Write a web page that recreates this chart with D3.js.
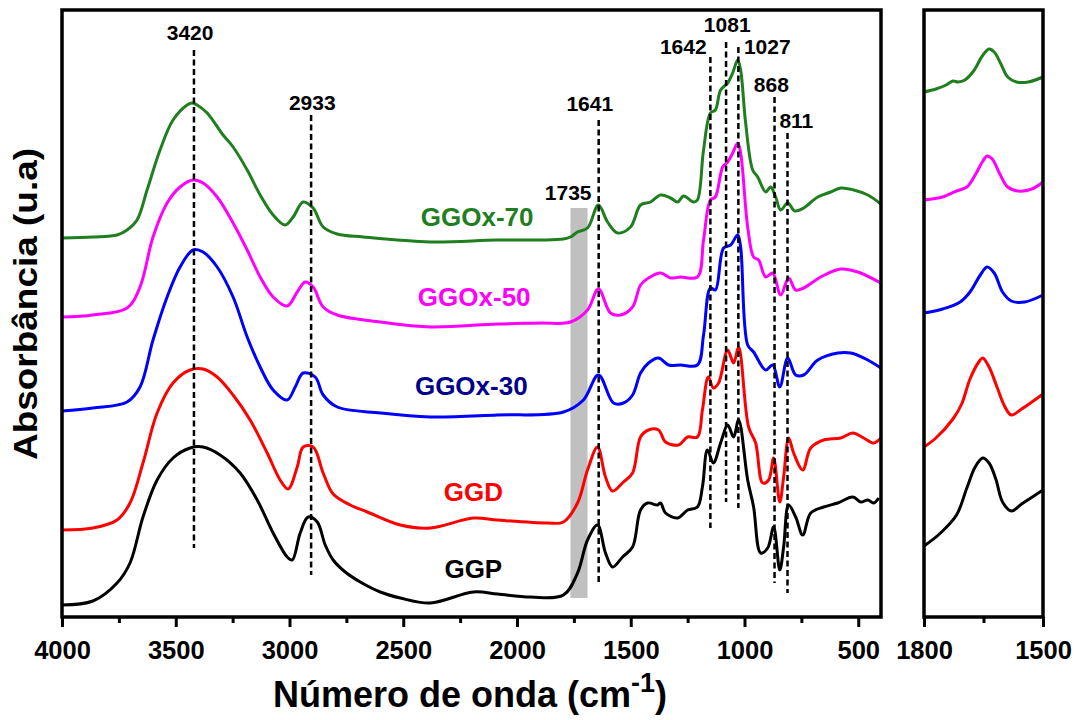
<!DOCTYPE html>
<html>
<head>
<meta charset="utf-8">
<script src="https://cdn.jsdelivr.net/npm/d3@7"></script>
<style>
  body { margin: 0; background: #fff; }
  svg { display: block; }
  text { font-family: "Liberation Sans", Arial, sans-serif; font-weight: bold; }
</style>
</head>
<body>
<svg id="chart" width="1075" height="720"></svg>
<script>
// FTIR spectra (offset for clarity): wavenumber (cm-1), absorbance (a.u., stacked)
const seriesNames  = ["GGP", "GGD", "GGOx-30", "GGOx-50", "GGOx-70"];
const seriesColors = ["#000000", "#ff0000", "#0000ff", "#ff00ff", "#1f7f1f"];
const labelColors  = ["#000000", "#ff0000", "#00008b", "#ff00ff", "#1f7f1f"];

const ggp = [[4000,7],[3864,11],[3758,29],[3701,49],[3644,95],[3582,132],[3512,154],[3437,164],[3380,165],[3305,157],[3217,139],[3142,112],[3072,79],[3010,55],[2988,52],[2953,79],[2918,95],[2878,90],[2843,67],[2808,52],[2755,40],[2689,30],[2601,20],[2513,14],[2381,9],[2192,20],[2086,18],[1941,15],[1796,17],[1734,39],[1690,72],[1646,87],[1611,59],[1580,45],[1536,55],[1492,65],[1457,102],[1426,109],[1382,107],[1369,109],[1347,99],[1294,94],[1250,102],[1207,105],[1185,125],[1163,162],[1137,149],[1105,169],[1074,187],[1048,175],[1026,192],[986,132],[960,105],[929,59],[898,64],[872,85],[845,42],[828,65],[806,107],[775,95],[744,77],[709,99],[652,105],[590,109],[524,115],[489,110],[458,112],[432,109],[410,114]];

const ggd = [[4000,82],[3864,84],[3758,92],[3701,109],[3644,149],[3582,199],[3512,229],[3437,242],[3380,243],[3318,235],[3248,217],[3173,192],[3098,159],[3041,132],[3006,123],[2966,145],[2940,165],[2896,165],[2852,139],[2808,118],[2733,107],[2658,100],[2513,87],[2381,84],[2192,94],[2086,92],[1866,89],[1796,90],[1734,109],[1690,142],[1646,165],[1611,135],[1580,121],[1532,130],[1492,139],[1457,175],[1422,182],[1378,182],[1347,170],[1290,167],[1250,175],[1207,175],[1185,202],[1159,235],[1137,224],[1114,229],[1074,262],[1048,249],[1026,265],[982,185],[951,169],[920,129],[894,132],[872,154],[845,110],[828,135],[806,174],[784,159],[744,142],[709,164],[652,172],[577,174],[524,179],[476,174],[432,169],[401,174]];

const ggox30 = [[4000,201],[3864,204],[3714,210],[3657,225],[3600,272],[3538,315],[3481,345],[3424,362],[3380,360],[3318,345],[3248,315],[3186,275],[3129,245],[3072,222],[3010,212],[2975,225],[2940,239],[2887,235],[2852,217],[2790,205],[2601,199],[2381,195],[2086,197],[1796,200],[1708,212],[1642,237],[1576,209],[1532,209],[1492,217],[1457,239],[1422,249],[1378,254],[1334,247],[1281,247],[1207,247],[1180,277],[1150,324],[1128,322],[1092,364],[1061,367],[1030,377],[1017,365],[986,267],[960,260],[907,242],[876,247],[845,225],[810,254],[775,237],[740,237],[678,252],[590,259],[533,259],[458,252],[401,244]];

const ggox50 = [[4000,295],[3864,297],[3714,304],[3657,325],[3600,375],[3538,409],[3481,425],[3424,432],[3380,429],[3318,415],[3248,389],[3186,362],[3129,335],[3072,315],[3010,306],[2966,320],[2931,330],[2896,325],[2852,305],[2790,297],[2601,290],[2381,285],[2086,288],[1897,289],[1765,290],[1690,302],[1642,323],[1589,299],[1545,297],[1492,305],[1457,327],[1422,334],[1369,339],[1325,334],[1281,335],[1207,335],[1180,372],[1150,412],[1128,415],[1096,445],[1074,450],[1052,459],[1030,469],[1017,459],[986,385],[960,355],[938,352],[907,335],[876,339],[841,317],[806,334],[775,322],[740,324],[665,335],[577,343],[502,340],[401,329]];

const ggox70 = [[4000,374],[3864,375],[3758,377],[3714,382],[3670,392],[3626,422],[3569,462],[3512,492],[3450,507],[3428,509],[3406,507],[3362,499],[3292,477],[3248,465],[3186,442],[3129,417],[3072,397],[3019,387],[2984,395],[2940,410],[2896,404],[2852,385],[2790,378],[2676,375],[2381,370],[2086,372],[1897,372],[1796,373],[1765,375],[1734,380],[1690,384],[1642,407],[1602,390],[1558,379],[1501,385],[1457,407],[1413,410],[1369,417],[1325,414],[1294,410],[1268,416],[1224,410],[1207,412],[1180,462],[1150,499],[1128,502],[1105,522],[1074,529],[1052,539],[1030,552],[1017,542],[995,489],[964,442],[942,435],[907,420],[885,425],[863,415],[841,402],[810,409],[779,401],[740,404],[678,415],[621,420],[577,424],[520,422],[458,417],[401,408]];

// Expanded 1800-1500 cm-1 region (own offsets)
const ggpC   = [[1800,66],[1761,78],[1718,97],[1692,124],[1671,145],[1652,154],[1636,149],[1619,133],[1602,110],[1580,101],[1554,108],[1500,122]];
const ggdC   = [[1800,165],[1770,174],[1727,193],[1705,208],[1684,233],[1662,250],[1652,254],[1636,245],[1615,224],[1597,206],[1580,197],[1554,203],[1528,210],[1500,218]];
const ggox30C = [[1800,299],[1753,303],[1709,310],[1684,320],[1658,337],[1641,345],[1623,339],[1602,320],[1580,311],[1546,310],[1500,317]];
const ggox50C = [[1800,412],[1753,415],[1718,421],[1692,425],[1671,437],[1653,450],[1641,456],[1628,453],[1610,439],[1589,425],[1563,421],[1528,423],[1500,430]];
const ggox70C = [[1800,520],[1770,523],[1744,527],[1727,531],[1714,530],[1697,532],[1675,541],[1653,556],[1636,563],[1623,560],[1606,548],[1589,535],[1567,530],[1537,530],[1500,535]];

const mainSeries  = [ggp, ggd, ggox30, ggox50, ggox70];
const insetSeries = [ggpC, ggdC, ggox30C, ggox50C, ggox70C];

// Series name positions [wavenumber, level]
const seriesLabelPos = [[2192,34],[2192,111],[2201,217],[2188,306],[2175,386]];

// Band assignments: dashed guide position, top and bottom level
const guidePos    = [3420, 2905, 1641, 1150, 1081, 1027, 868, 811];
const guideTop    = [562, 497, 492, 555, 570, 565, 515, 479];
const guideBottom = [64, 37, 30, 84, 110, 104, 29, 19];

// Peak annotation texts and where they sit [wavenumber, level]
const peakTexts = ["3420", "2933", "1641", "1735", "1642", "1081", "1027", "868", "811"];
const peakTextPos = [[3437,572],[2900,502],[1680,501],[1775,412],[1269,558],[1076,580],[900,558],[882,520],[772,484]];

// Carbonyl band highlight
const bandRange = [1765, 1690];
const bandLevels = [14, 404];

const mainTicks  = [4000, 3500, 3000, 2500, 2000, 1500, 1000, 500];
const minorTicks = [3750, 3250, 2750, 2250, 1750, 1250, 750];
const insetTicks = [1800, 1500];
const insetMinor = [1650];

const svg = d3.select("#chart");
const M = { left: 62, right: 881, top: 10, bottom: 617 };
const I = { left: 924, right: 1043 };

const x  = d3.scaleLinear().domain([4000, 400]).range([M.left, M.right]);
const y  = d3.scaleLinear().domain([-5, 602]).range([M.bottom, M.top]);
const xi = d3.scaleLinear().domain([1800, 1500]).range([I.left, I.right]);

// grey band
svg.append("rect")
  .attr("x", x(bandRange[0]))
  .attr("width", x(bandRange[1]) - x(bandRange[0]))
  .attr("y", y(bandLevels[1]))
  .attr("height", y(bandLevels[0]) - y(bandLevels[1]))
  .attr("fill", "#c0c0c0");

// spectra
const line = d3.line().x(d => x(d[0])).y(d => y(d[1])).curve(d3.curveCatmullRom.alpha(0.5));
svg.append("g").selectAll("path").data(mainSeries).join("path")
  .attr("d", line)
  .attr("fill", "none")
  .attr("stroke", (d, i) => seriesColors[i])
  .attr("stroke-width", 3)
  .attr("stroke-linejoin", "round");

// dashed guides
svg.append("g").selectAll("line").data(guidePos).join("line")
  .attr("x1", d => x(d)).attr("x2", d => x(d))
  .attr("y1", (d, i) => y(guideTop[i]))
  .attr("y2", (d, i) => y(guideBottom[i]))
  .attr("stroke", "#000")
  .attr("stroke-width", 2.5)
  .attr("stroke-dasharray", "6,3.5");

// peak texts
svg.append("g").selectAll("text").data(peakTexts).join("text")
  .attr("x", (d, i) => x(peakTextPos[i][0]))
  .attr("y", (d, i) => y(peakTextPos[i][1]))
  .attr("text-anchor", "middle")
  .attr("font-size", 21)
  .attr("fill", "#000")
  .text(d => d);

// series names
svg.append("g").selectAll("text").data(seriesNames).join("text")
  .attr("x", (d, i) => x(seriesLabelPos[i][0]))
  .attr("y", (d, i) => y(seriesLabelPos[i][1]))
  .attr("text-anchor", "middle")
  .attr("font-size", 26)
  .attr("fill", (d, i) => labelColors[i])
  .text(d => d);

// main frame
svg.append("rect")
  .attr("x", M.left).attr("y", M.top)
  .attr("width", M.right - M.left).attr("height", M.bottom - M.top)
  .attr("fill", "none").attr("stroke", "#000").attr("stroke-width", 3.5);

// main bottom axis
const axMain = svg.append("g").attr("transform", `translate(0,${M.bottom})`)
  .call(d3.axisBottom(x).tickValues(mainTicks).tickSize(10).tickPadding(14).tickFormat(d3.format("d")));
axMain.select(".domain").remove();
axMain.selectAll(".tick line").attr("stroke-width", 3);
axMain.selectAll(".tick text").attr("font-size", 25.5).attr("font-family", null).attr("fill", "#000");
const axMinor = svg.append("g").attr("transform", `translate(0,${M.bottom})`)
  .call(d3.axisBottom(x).tickValues(minorTicks).tickSize(6).tickFormat(""));
axMinor.select(".domain").remove();
axMinor.selectAll(".tick line").attr("stroke-width", 3);

// expanded panel
const lineI = d3.line().x(d => xi(d[0])).y(d => y(d[1])).curve(d3.curveCatmullRom.alpha(0.5));
svg.append("g").selectAll("path").data(insetSeries).join("path")
  .attr("d", lineI)
  .attr("fill", "none")
  .attr("stroke", (d, i) => seriesColors[i])
  .attr("stroke-width", 3)
  .attr("stroke-linejoin", "round");

svg.append("rect")
  .attr("x", I.left).attr("y", M.top)
  .attr("width", I.right - I.left).attr("height", M.bottom - M.top)
  .attr("fill", "none").attr("stroke", "#000").attr("stroke-width", 3.5);

const axIn = svg.append("g").attr("transform", `translate(0,${M.bottom})`)
  .call(d3.axisBottom(xi).tickValues(insetTicks).tickSize(10).tickPadding(14).tickFormat(d3.format("d")));
axIn.select(".domain").remove();
axIn.selectAll(".tick line").attr("stroke-width", 3);
axIn.selectAll(".tick text").attr("font-size", 25.5).attr("font-family", null).attr("fill", "#000");
const axInMinor = svg.append("g").attr("transform", `translate(0,${M.bottom})`)
  .call(d3.axisBottom(xi).tickValues(insetMinor).tickSize(6).tickFormat(""));
axInMinor.select(".domain").remove();
axInMinor.selectAll(".tick line").attr("stroke-width", 3);

// axis titles
const xt = svg.append("text")
  .attr("x", 273).attr("y", 707)
  .attr("font-size", 36).attr("fill", "#000");
xt.append("tspan").text("Número de onda (cm");
xt.append("tspan").attr("dy", -15).attr("font-size", 27).text("-1");
xt.append("tspan").attr("dy", 15).text(")");

svg.append("text")
  .attr("transform", "translate(37,304) rotate(-90)")
  .attr("text-anchor", "middle")
  .attr("font-size", 33)
  .attr("textLength", 312)
  .attr("lengthAdjust", "spacingAndGlyphs")
  .attr("fill", "#000")
  .text("Absorbância (u.a)");
</script>
</body>
</html>
